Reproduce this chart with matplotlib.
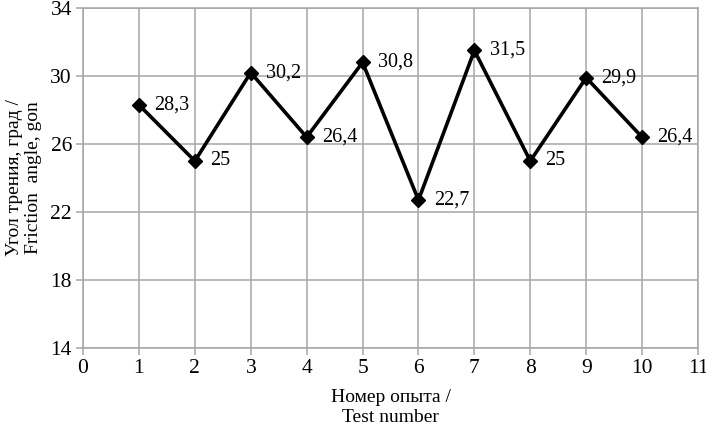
import matplotlib
matplotlib.use("Agg")
import matplotlib.pyplot as plt

# data
tests = [1, 2, 3, 4, 5, 6, 7, 8, 9, 10]
angles = [28.3, 25, 30.2, 26.4, 30.8, 22.7, 31.5, 25, 29.9, 26.4]
labels = ["28,3", "25", "30,2", "26,4", "30,8", "22,7", "31,5", "25", "29,9", "26,4"]

plt.rcParams["font.family"] = ["Liberation Serif", "DejaVu Serif"]

fig = plt.figure(figsize=(7.06, 4.29), dpi=100)
ax = fig.add_axes([0.1176, 0.1888, 0.8711, 0.7926])

ax.plot(tests, angles, color="black", linewidth=2.6, marker="D",
        markersize=7, zorder=4, clip_on=False)
for x, y, t in zip(tests, angles, labels):
    ax.annotate(t, xy=(x, y), xytext=(11, 0), textcoords="offset points",
                fontsize=14.5, va="center", ha="left", color="black")

ax.set_xlim(0, 11)
ax.set_ylim(14, 34)
ax.set_xticks(range(0, 12))
ax.set_yticks(range(14, 35, 4))
ax.grid(True, color="#a6a6a6", linewidth=1.1, zorder=0)
ax.set_axisbelow(True)
for s in ax.spines.values():
    s.set_color("#a6a6a6")
    s.set_linewidth(1.1)
ax.tick_params(direction="out", length=5, width=1.1, color="#a6a6a6",
               labelsize=15.5, labelcolor="black", pad=3)

ax.set_xlabel("Номер опыта /\nTest number", fontsize=14, linespacing=1.2,
              labelpad=8)
ax.set_ylabel("Угол трения, град /\nFriction  angle, gon", fontsize=14,
              linespacing=1.15, labelpad=6)

fig.savefig("out.png", dpi=100)
